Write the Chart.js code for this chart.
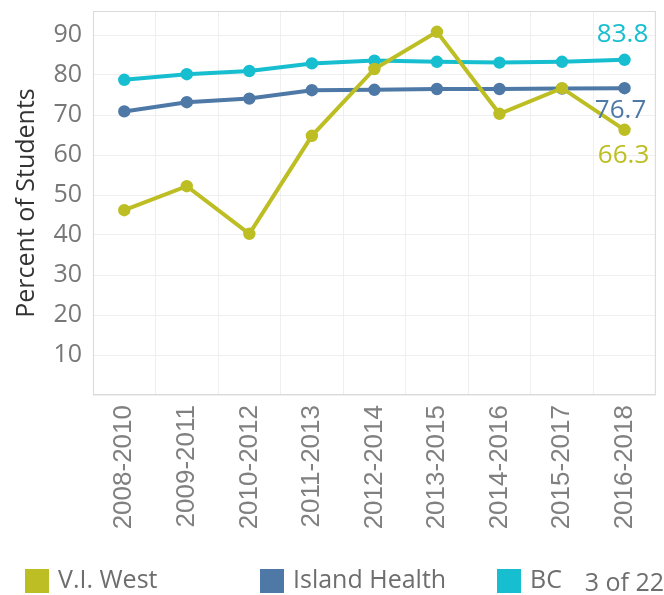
<!DOCTYPE html>
<html>
<head>
<meta charset="utf-8">
<script src="https://cdn.jsdelivr.net/npm/chart.js@4"></script>
<style>
  html, body { margin: 0; padding: 0; background: #fff; }
  #wrap { width: 664px; height: 595px; position: relative; }
</style>
</head>
<body>
<div id="wrap"><canvas id="chart" width="664" height="595"></canvas></div>
<script>
const periods = ['2008-2010', '2009-2011', '2010-2012', '2011-2013', '2012-2014', '2013-2015', '2014-2016', '2015-2017', '2016-2018'];
const viWest = [46.2, 52.2, 40.3, 64.8, 81.5, 90.8, 70.3, 76.7, 66.3];
const islandHealth = [70.9, 73.2, 74.1, 76.2, 76.3, 76.5, 76.5, 76.6, 76.7];
const bc = [78.8, 80.2, 81.0, 82.9, 83.6, 83.3, 83.1, 83.3, 83.8];
const seriesNames = ['V.I. West', 'Island Health', 'BC'];
const seriesColors = ['#bdbe23', '#4e79a7', '#17becf'];
const pageLabel = '3 of 22';

const FONT = '"Open Sans", sans-serif';
const XFONT = '"Liberation Sans", Arial, sans-serif';

function makeSet(label, data, color){
    return {
        label, data,
        borderColor: color,
        backgroundColor: color,
        borderWidth: 4,
        pointRadius: 4.2,
        pointHoverRadius: 4.2,
        tension: 0
    };
}

// plot frame + end labels + legend
const extras = {
    id: 'extras',
    beforeDatasetsDraw(chart){
        const {ctx, chartArea: a} = chart;
        ctx.save();
        ctx.strokeStyle = '#d9d9d9';
        ctx.lineWidth = 1;
        ctx.strokeRect(a.left + 0.5, a.top + 0.5, a.right - a.left - 1, a.bottom - a.top - 1);
        ctx.restore();
    },
    afterDraw(chart){
        const ctx = chart.ctx;
        ctx.save();
        ctx.font = '26px ' + FONT;
        // end labels
        const offsets = [[-1, 26], [-4, 22], [-2, -25]];
        chart.data.datasets.forEach((ds, i) => {
            const pts = chart.getDatasetMeta(i).data;
            const p = pts[pts.length - 1];
            const v = ds.data[ds.data.length - 1];
            ctx.fillStyle = ds.borderColor;
            ctx.textAlign = 'center';
            ctx.textBaseline = 'middle';
            ctx.fillText(v.toFixed(1), p.x + offsets[i][0], p.y + offsets[i][1]);
        });
        // legend
        const boxX = [25, 260, 497];
        const y = 581;
        ctx.font = '25px ' + FONT;
        ctx.textAlign = 'left';
        ctx.textBaseline = 'middle';
        seriesNames.forEach((n, i) => {
            ctx.fillStyle = seriesColors[i];
            ctx.fillRect(boxX[i], y - 12, 24, 24);
            ctx.fillStyle = '#6e6e6e';
            ctx.fillText(n, boxX[i] + 33, y);
        });
        ctx.textAlign = 'right';
        ctx.fillText(pageLabel, 664, y + 3);
        ctx.restore();
    }
};

new Chart(document.getElementById('chart'), {
    type: 'line',
    data: {
        labels: periods,
        datasets: [
            makeSet(seriesNames[0], viWest, seriesColors[0]),
            makeSet(seriesNames[1], islandHealth, seriesColors[1]),
            makeSet(seriesNames[2], bc, seriesColors[2])
        ]
    },
    options: {
        responsive: false,
        animation: false,
        layout: { padding: { top: 11, right: 8, bottom: 60, left: 12 } },
        plugins: { legend: { display: false }, tooltip: { enabled: false } },
        scales: {
            x: {
                offset: true,
                grid: { offset: true, color: '#efefef', drawTicks: false },
                border: { display: false },
                ticks: {
                    color: '#808080', font: { family: XFONT, size: 26 },
                    minRotation: 90, maxRotation: 90, padding: 10
                },
                afterFit(s){ s.height = 140; s.paddingLeft = 0; s.paddingRight = 0; }
            },
            y: {
                min: 0, max: 96,
                grid: { color: '#efefef', drawTicks: false },
                border: { display: false },
                ticks: {
                    stepSize: 10, includeBounds: false,
                    color: '#777', font: { family: FONT, size: 25 }, padding: 11,
                    callback: v => v === 0 ? '' : v
                },
                title: {
                    display: true, text: 'Percent of Students',
                    color: '#333', font: { family: FONT, size: 25 }, padding: { top: 0, bottom: 2 }
                },
                afterFit(s){ s.width = 81; s.paddingTop = 0; s.paddingBottom = 0; }
            }
        }
    },
    plugins: [extras]
});
</script>
</body>
</html>
